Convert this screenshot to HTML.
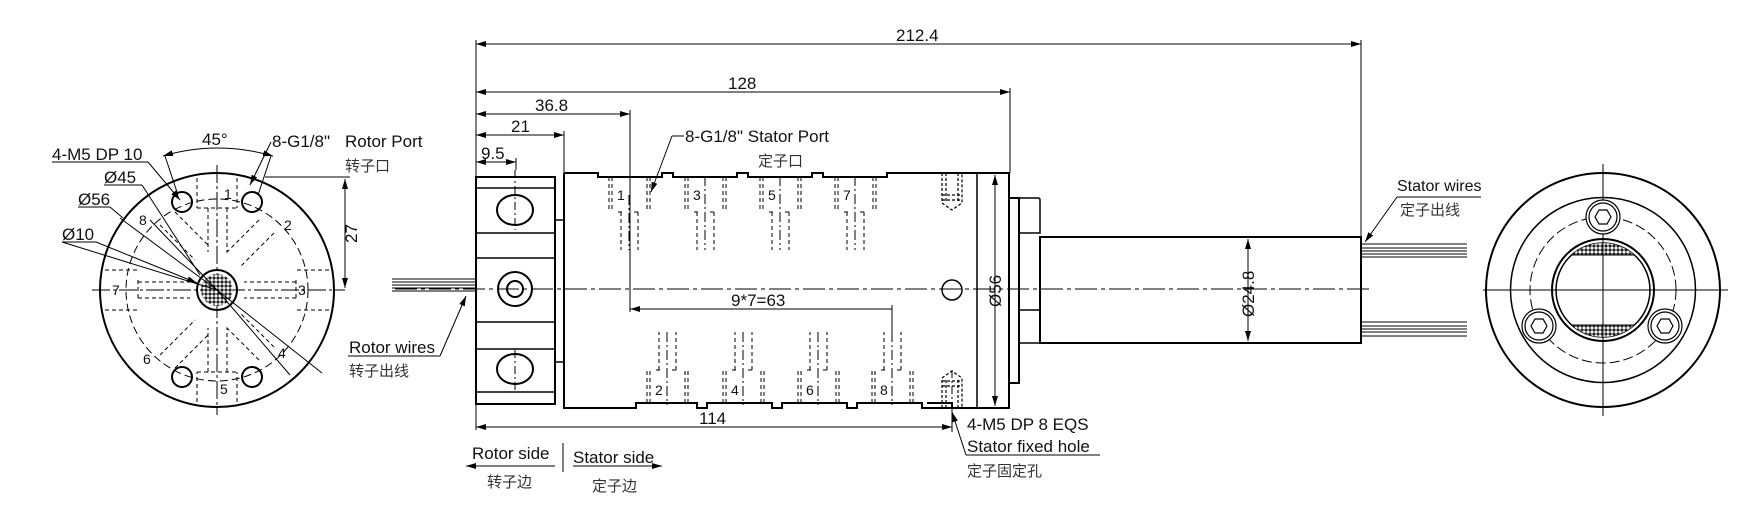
<!DOCTYPE html>
<html><head><meta charset="utf-8"><style>
html,body{margin:0;padding:0;background:#fff}
svg{display:block}
text{font-family:"Liberation Sans","Noto Sans CJK SC",sans-serif;fill:#111}
.cn{font-size:15px;fill:#333}
</style></head><body>
<svg width="1753" height="526" viewBox="0 0 1753 526" xmlns="http://www.w3.org/2000/svg">
<defs>
<marker id="a" viewBox="0 0 10 6" refX="10" refY="3" markerWidth="10" markerHeight="6" orient="auto-start-reverse" markerUnits="userSpaceOnUse"><path d="M0,0 L10,3 L0,6 z" fill="#000"/></marker>
<pattern id="dots" width="4" height="4" patternUnits="userSpaceOnUse"><rect width="4" height="4" fill="#fff"/><circle cx="2" cy="2" r="1.6" fill="#222"/></pattern>
<clipPath id="ic"><circle cx="1603" cy="290" r="47"/></clipPath>
</defs>
<g stroke="#000" fill="none" stroke-width="1">

<circle cx="217" cy="290" r="117" stroke-width="2"/>
<circle cx="217" cy="290" r="91" stroke-dasharray="8,4"/>
<line x1="217" y1="165" x2="217" y2="415" stroke-dasharray="18,3,3,3"/>
<line x1="92" y1="290" x2="345" y2="290" stroke-dasharray="18,3,3,3"/>
<g stroke-width="2"><circle cx="182" cy="202" r="10"/><circle cx="252" cy="202" r="10"/><circle cx="182" cy="377" r="10"/><circle cx="252" cy="377" r="10"/></g>
<circle cx="217" cy="290" r="20" stroke-width="2"/>
<circle cx="217" cy="290" r="16" fill="url(#dots)" stroke="none"/>
<g stroke-dasharray="4,3">
<path d="M197,178 V208 M237,178 V208 M197,208 H237 M208,208 V252 M227,208 V252"/>
<path d="M197,402 V372 M237,402 V372 M197,372 H237 M208,372 V328 M227,372 V328"/>
<path d="M105,270 H138 M105,310 H138 M138,280 V300 M138,282 H190 M138,298 H190"/>
<path d="M329,270 H296 M329,310 H296 M296,280 V300 M296,282 H244 M296,298 H244"/>
<path d="M160,225 L195,260 M175,212 L208,245 M274,233 L241,266 M259,220 L226,253"/>
<path d="M160,355 L195,320 M175,368 L208,335 M274,347 L241,314 M259,360 L226,327"/>
</g>
<g stroke-width="1">
<line x1="217" y1="290" x2="150" y2="220"/>
<line x1="217" y1="290" x2="120" y2="218"/>
<line x1="217" y1="290" x2="62" y2="242"/>
<line x1="217" y1="290" x2="322" y2="373"/>
<line x1="217" y1="290" x2="290" y2="375"/>
<line x1="52" y1="162" x2="148" y2="162"/><line x1="148" y1="162" x2="180" y2="200" marker-end="url(#a)"/>
<line x1="104" y1="185" x2="142" y2="185"/><line x1="142" y1="185" x2="200" y2="275" />
<line x1="78" y1="207" x2="110" y2="207"/><line x1="110" y1="207" x2="123" y2="218"/>
<line x1="62" y1="242" x2="96" y2="242"/><line x1="96" y1="242" x2="197" y2="283" marker-end="url(#a)"/>
<path d="M271,142 L250,185" marker-end="url(#a)"/>
<path d="M163,156 Q217,140 273,156" marker-start="url(#a)" marker-end="url(#a)"/>
<line x1="165" y1="156" x2="178" y2="195"/><line x1="271" y1="156" x2="258" y2="195"/>
<line x1="265" y1="177" x2="350" y2="177"/>
<line x1="345" y1="179" x2="345" y2="288" marker-start="url(#a)" marker-end="url(#a)"/>
</g>
<g stroke-width="1"><line x1="392" y1="279" x2="476" y2="279"/><line x1="392" y1="282" x2="476" y2="282"/><line x1="392" y1="285" x2="476" y2="285"/><line x1="392" y1="288" x2="476" y2="288"/><line x1="392" y1="291" x2="476" y2="291"/></g>
<line x1="348" y1="356" x2="440" y2="356"/><path d="M440,356 L466,296" marker-end="url(#a)"/>

<line x1="395" y1="289" x2="1370" y2="289" stroke-dasharray="22,4,4,4"/>
<rect x="476" y="177" width="79" height="227" stroke-width="2"/>
<g stroke-width="1.5"><line x1="476" y1="188" x2="555" y2="188"/><line x1="476" y1="233" x2="555" y2="233"/><line x1="476" y1="258" x2="555" y2="258"/><line x1="476" y1="322" x2="555" y2="322"/><line x1="476" y1="349" x2="555" y2="349"/><line x1="476" y1="392" x2="555" y2="392"/></g>
<g stroke-width="2"><ellipse cx="515" cy="210" rx="18" ry="15"/><ellipse cx="515" cy="369" rx="18" ry="15"/><ellipse cx="515" cy="289" rx="17" ry="17"/><circle cx="515" cy="289" r="8"/></g>
<line x1="515" y1="170" x2="515" y2="230" stroke-dasharray="8,3,2,3"/><line x1="515" y1="350" x2="515" y2="390" stroke-dasharray="8,3,2,3"/>
<rect x="555" y="220" width="9" height="142" stroke-width="1.5"/>
<path d="M564,173 H598 V177 H662 V173 H673 V177 H737 V173 H748 V177 H812 V173 H823 V177 H887 V173 H1009 V408 H952 V403 H927 M564,173 V408 H636 V403 H697 V408 H707 V403 H772 V408 H782 V403 H847 V408 H857 V403 H922 V408 H952" stroke-width="2"/>
<line x1="977" y1="173" x2="977" y2="408" stroke-width="1.5"/>
<g stroke-dasharray="4,3" stroke-width="1">
<g id="tp"><path d="M609,177 V210 M612,177 V210 M647,177 V210 M650,177 V210 M618,212 H624 M634,212 H641 M621,212 V250 M638,212 V250"/></g>
<use href="#tp" x="76"/><use href="#tp" x="151"/><use href="#tp" x="226"/>
<g id="bp"><path d="M647,403 V370 M650,403 V370 M685,403 V370 M688,403 V370 M656,370 H662 M672,370 H679 M659,370 V332 M676,370 V332"/></g>
<use href="#bp" x="76"/><use href="#bp" x="151"/><use href="#bp" x="225"/>
</g>
<g stroke-dasharray="10,3,2,3">
<line x1="629" y1="195" x2="629" y2="250"/><line x1="705" y1="176" x2="705" y2="250"/><line x1="780" y1="176" x2="780" y2="250"/><line x1="855" y1="176" x2="855" y2="250"/>
<line x1="667" y1="332" x2="667" y2="405"/><line x1="743" y1="332" x2="743" y2="405"/><line x1="818" y1="332" x2="818" y2="405"/><line x1="892" y1="332" x2="892" y2="405"/>
</g>
<g stroke-dasharray="3,2" stroke-width="1.2">
<path d="M942,173 V203 L952,210 L962,203 V173 M946,173 V203 M958,173 V203 M942,195 H962 M942,200 H962"/>
<path d="M942,408 V378 L952,371 L962,378 V408 M946,408 V378 M958,408 V378 M942,386 H962 M942,381 H962"/>
</g>
<line x1="952" y1="370" x2="952" y2="412" stroke-dasharray="8,3,2,3"/>
<circle cx="952" cy="290" r="10" stroke-width="1.5"/>
<rect x="1009" y="198" width="10" height="185" stroke-width="2"/>
<path d="M1019,198 H1038 Q1040,198 1040,200 V233 H1019 M1019,310 H1038 Q1040,310 1040,312 V343 H1019" stroke-width="1.5"/>
<rect x="1040" y="237" width="321" height="106" stroke-width="2"/>
<g stroke-width="1"><line x1="1361" y1="244" x2="1467" y2="244"/><line x1="1361" y1="248" x2="1467" y2="248"/><line x1="1361" y1="251" x2="1467" y2="251"/><line x1="1361" y1="254" x2="1467" y2="254"/><line x1="1361" y1="257" x2="1467" y2="257"/>
<line x1="1361" y1="322" x2="1467" y2="322"/><line x1="1361" y1="326" x2="1467" y2="326"/><line x1="1361" y1="329" x2="1467" y2="329"/><line x1="1361" y1="332" x2="1467" y2="332"/><line x1="1361" y1="336" x2="1467" y2="336"/></g>
<line x1="1248" y1="239" x2="1248" y2="341" marker-start="url(#a)" marker-end="url(#a)"/>
<line x1="995" y1="175" x2="995" y2="406" marker-start="url(#a)" marker-end="url(#a)"/>
<g stroke-width="1">
<line x1="476" y1="40" x2="476" y2="430"/>
<line x1="1361" y1="40" x2="1361" y2="237"/>
<line x1="476" y1="44" x2="1361" y2="44" marker-start="url(#a)" marker-end="url(#a)"/>
<line x1="1010" y1="88" x2="1010" y2="173"/>
<line x1="476" y1="92" x2="1010" y2="92" marker-start="url(#a)" marker-end="url(#a)"/>
<line x1="630" y1="110" x2="630" y2="312"/>
<line x1="476" y1="114" x2="630" y2="114" marker-start="url(#a)" marker-end="url(#a)"/>
<line x1="564" y1="131" x2="564" y2="173"/>
<line x1="476" y1="135" x2="564" y2="135" marker-start="url(#a)" marker-end="url(#a)"/>
<line x1="516" y1="158" x2="516" y2="170"/>
<line x1="476" y1="162" x2="516" y2="162" marker-start="url(#a)" marker-end="url(#a)"/>
<line x1="892" y1="305" x2="892" y2="332"/>
<line x1="630" y1="309" x2="892" y2="309" marker-start="url(#a)"/>
<line x1="952" y1="408" x2="952" y2="432"/>
<line x1="476" y1="427" x2="952" y2="427" marker-start="url(#a)" marker-end="url(#a)"/>
<line x1="684" y1="136" x2="672" y2="136"/><path d="M672,136 L651,192" marker-end="url(#a)"/>
<path d="M966,455 L952,412" marker-end="url(#a)"/><line x1="966" y1="455" x2="1100" y2="455"/>
<line x1="1397" y1="197" x2="1481" y2="197"/><path d="M1397,197 L1365,242" marker-end="url(#a)"/>
<line x1="466" y1="466" x2="555" y2="466" marker-start="url(#a)"/>
<line x1="573" y1="466" x2="662" y2="466" marker-end="url(#a)"/>
<line x1="563" y1="443" x2="563" y2="472"/>
</g>

<circle cx="1603" cy="290" r="117" stroke-width="2"/>
<circle cx="1603" cy="290" r="92.5" stroke-width="1.5"/>
<circle cx="1603" cy="290" r="73" stroke-dasharray="10,4"/>
<circle cx="1603" cy="290" r="51" stroke-width="2"/>
<circle cx="1603" cy="290" r="47" stroke-width="1.5"/>
<g clip-path="url(#ic)">
<rect x="1556" y="240" width="94" height="15" fill="url(#dots)" stroke="none"/>
<rect x="1556" y="325" width="94" height="15" fill="url(#dots)" stroke="none"/>
<line x1="1556" y1="255" x2="1650" y2="255"/><line x1="1556" y1="325" x2="1650" y2="325"/>
</g>
<line x1="1483" y1="290" x2="1728" y2="290"/><line x1="1603" y1="164" x2="1603" y2="416"/>
<g stroke-width="1.2">
<circle cx="1603" cy="217" r="17" fill="#fff"/><circle cx="1603" cy="217" r="14"/><polygon points="1611,217 1607,224 1599,224 1595,217 1599,210 1607,210"/>
<circle cx="1539" cy="326" r="17" fill="#fff"/><circle cx="1539" cy="326" r="14"/><polygon points="1547,326 1543,333 1535,333 1531,326 1535,319 1543,319"/>
<circle cx="1665" cy="326" r="17" fill="#fff"/><circle cx="1665" cy="326" r="14"/><polygon points="1673,326 1669,333 1661,333 1657,326 1661,319 1669,319"/>
</g>
</g>

<g font-size="17">
<text x="202" y="145">45°</text>
<text x="272" y="147">8-G1/8"</text>
<text x="345" y="147">Rotor Port</text>
<text x="345" y="171" class="cn">转子口</text>
<text x="52" y="160">4-M5 DP 10</text>
<text x="104" y="183">Ø45</text>
<text x="78" y="205">Ø56</text>
<text x="62" y="240">Ø10</text>
<text x="349" y="353">Rotor wires</text>
<text x="349" y="376" class="cn">转子出线</text>
<text x="224" y="199" font-size="14">1</text>
<text x="284" y="230" font-size="14">2</text>
<text x="298" y="295" font-size="14">3</text>
<text x="278" y="358" font-size="14">4</text>
<text x="220" y="394" font-size="14">5</text>
<text x="143" y="364" font-size="14">6</text>
<text x="112" y="295" font-size="14">7</text>
<text x="139" y="225" font-size="14">8</text>
<text transform="translate(357,243) rotate(-90)">27</text>

<text x="896" y="41">212.4</text>
<text x="728" y="89">128</text>
<text x="535" y="111">36.8</text>
<text x="511" y="132">21</text>
<text x="481" y="159">9.5</text>
<text x="685" y="142">8-G1/8" Stator Port</text>
<text x="758" y="166" class="cn">定子口</text>
<text x="731" y="306">9*7=63</text>
<text x="699" y="424">114</text>
<text x="967" y="430">4-M5 DP 8 EQS</text>
<text x="967" y="452">Stator fixed hole</text>
<text x="967" y="476" class="cn">定子固定孔</text>
<text x="472" y="459">Rotor side</text>
<text x="573" y="463">Stator side</text>
<text x="487" y="487" class="cn">转子边</text>
<text x="592" y="491" class="cn">定子边</text>
<text transform="translate(1001,307) rotate(-90)">Ø56</text>
<text transform="translate(1254,317) rotate(-90)">Ø24.8</text>
<text x="1397" y="191" font-size="16">Stator wires</text>
<text x="1400" y="215" class="cn">定子出线</text>
<g font-size="14">
<text x="617" y="200">1</text><text x="693" y="200">3</text><text x="768" y="200">5</text><text x="843" y="200">7</text>
<text x="655" y="395">2</text><text x="731" y="395">4</text><text x="806" y="395">6</text><text x="880" y="395">8</text>
</g>
</g>
</svg>
</body></html>
